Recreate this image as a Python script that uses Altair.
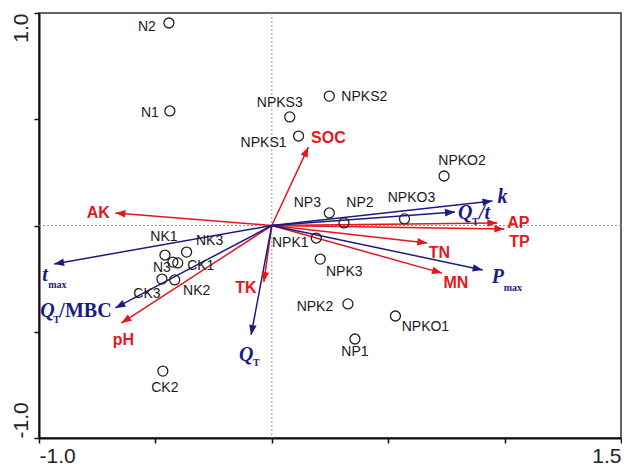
import math
import altair as alt
import pandas as pd

# ---------------- data ----------------
sample_names = ["N2", "N1", "NPKS3", "NPKS1", "NPKS2", "NPKO2", "NPKO3", "NP2", "NP3",
                "NPK1", "NPK3", "NPK2", "NPKO1", "NP1", "NK1", "NK3", "N3", "CK1",
                "CK3", "NK2", "CK2"]
sample_x = [-0.442, -0.438, 0.077, 0.115, 0.247, 0.740, 0.570, 0.310, 0.247,
            0.191, 0.208, 0.327, 0.531, 0.357, -0.459, -0.366, -0.425, -0.404,
            -0.472, -0.417, -0.468]
sample_y = [0.953, 0.539, 0.511, 0.421, 0.609, 0.233, 0.031, 0.012, 0.059,
            -0.059, -0.158, -0.369, -0.426, -0.534, -0.139, -0.125, -0.172, -0.176,
            -0.252, -0.256, -0.685]

env_names = ["AK", "SOC", "AP", "TP", "TN", "MN", "TK", "pH"]
env_x = [-0.672, 0.157, 0.969, 0.999, 0.668, 0.731, -0.034, -0.646]
env_y = [0.059, 0.369, 0.012, -0.016, -0.082, -0.224, -0.266, -0.459]

proc_names = ["k", "QT/t", "Pmax", "tmax", "QT/MBC", "QT"]
proc_x = [0.948, 0.787, 0.906, -0.935, -0.672, -0.089]
proc_y = [0.115, 0.064, -0.209, -0.181, -0.388, -0.515]

x_tick_values = [-1.0, -0.5, 0.0, 0.5, 1.0, 1.5]
x_tick_labels = ["-1.0", "", "", "", "", "1.5"]
y_tick_values = [-1.0, -0.5, 0.0, 0.5, 1.0]
y_tick_labels = ["-1.0", "", "", "", "1.0"]

# ---------------- label placement (pixel offsets) ----------------
sample_lab_dx = [-22, -20, -10, -35, 35, 18, 7, 16, -22, -26, 24, -33, 30, 0, -1, 23, -11, 23, -15, 22, 2]
sample_lab_dy = [4, 2, -14, 7, 1, -15, -21, -20, -10, 5, 13, 3, 11, 13, -18, -11, 6, 3, 15, 11, 17]
env_lab_dx = [-17, 20, 21, 15, 12, 14, -18, 2]
env_lab_dy = [0, -9, 0, 13, 10, 10, 6, 17]
# process-variable labels built from pieces: (variable, text, style, dx, dy)
proc_pieces = [
    ("k", "k", "it", 5, -4),
    ("QT/t", "Q", "it", 3, 1), ("QT/t", "T", "sub", 17, 10), ("QT/t", "/t", "it", 24, 1),
    ("Pmax", "P", "it", 9, 7), ("Pmax", "max", "sub", 21, 18),
    ("tmax", "t", "it", -12, 11), ("tmax", "max", "sub", -6, 21),
    ("QT/MBC", "Q", "it", -75, 3), ("QT/MBC", "T", "sub", -62, 12), ("QT/MBC", "/MBC", "up", -56, 3),
    ("QT", "Q", "it", -12, 20), ("QT", "T", "sub", 2, 28),
]

# ---------------- layout ----------------
W, H = 582, 425
XMIN, XMAX, YMIN, YMAX = -1.0, 1.5, -1.0, 1.0
PX = W / (XMAX - XMIN)
PY = H / (YMAX - YMIN)
RED = "#e5161d"
BLUE = "#1b1b82"

samples = pd.DataFrame({"name": sample_names, "x": sample_x, "y": sample_y})
samples["lx"] = [x + d / PX for x, d in zip(sample_x, sample_lab_dx)]
samples["ly"] = [y - d / PY for y, d in zip(sample_y, sample_lab_dy)]

def arrow_frame(names, xs, ys, grp):
    df = pd.DataFrame({"name": names, "x": xs, "y": ys})
    df["x0"] = 0.0
    df["y0"] = 0.0
    df["grp"] = grp
    df["ang"] = [(-math.degrees(math.atan2(y * PY, x * PX))) % 360 for x, y in zip(xs, ys)]
    return df

env = arrow_frame(env_names, env_x, env_y, "env")
env["lx"] = [x + d / PX for x, d in zip(env_x, env_lab_dx)]
env["ly"] = [y - d / PY for y, d in zip(env_y, env_lab_dy)]
proc = arrow_frame(proc_names, proc_x, proc_y, "proc")
arrows = pd.concat([env, proc], ignore_index=True)

tip = dict(zip(proc_names, zip(proc_x, proc_y)))
pieces = pd.DataFrame([
    {"var": v, "text": t, "style": s,
     "lx": tip[v][0] + dx / PX, "ly": tip[v][1] - dy / PY}
    for v, t, s, dx, dy in proc_pieces
])

def lab_expr(vals, labs):
    return " : ".join(f"datum.value == {v} ? '{l}'" for v, l in zip(vals, labs)) + " : ''"

xscale = alt.Scale(domain=[XMIN, XMAX], nice=False, zero=False)
yscale = alt.Scale(domain=[YMIN, YMAX], nice=False, zero=False)
xaxis = alt.Axis(values=x_tick_values, labelExpr=lab_expr(x_tick_values, x_tick_labels),
                 title="", grid=False, labelBaseline="top", labelPadding=2,
                 labelAlign={"condition": {"test": "datum.value < 0", "value": "left"}, "value": "right"})
yaxis = alt.Axis(values=y_tick_values, labelExpr=lab_expr(y_tick_values, y_tick_labels),
                 title="", grid=False, labelAngle=270, labelBaseline="bottom", labelPadding=3,
                 labelAlign={"condition": {"test": "datum.value > 0", "value": "right"}, "value": "left"})

def X(f):
    return alt.X(f, type="quantitative", scale=xscale, axis=xaxis)

def Y(f):
    return alt.Y(f, type="quantitative", scale=yscale, axis=yaxis)

zero = pd.DataFrame({"z": [0.0]})
vline = alt.Chart(zero).mark_rule(color="#9a9a9a", strokeDash=[2, 2], strokeWidth=1).encode(x=X("z"))
hline = alt.Chart(zero).mark_rule(color="#9a9a9a", strokeDash=[2, 2], strokeWidth=1).encode(y=Y("z"))

color = alt.Color("grp:N", scale=alt.Scale(domain=["env", "proc"], range=[RED, BLUE]), legend=None)

shafts = alt.Chart(arrows).mark_rule(strokeWidth=1.5).encode(
    x=X("x0"), y=Y("y0"), x2="x", y2="y", color=color)
heads = alt.Chart(arrows).mark_point(
    shape="M0,0L-1,-0.38L-1,0.38Z", filled=True, size=400, opacity=1, strokeWidth=0
).encode(x=X("x"), y=Y("y"), angle=alt.Angle("ang:Q", scale=None), color=color)

points = alt.Chart(samples).mark_point(
    shape="circle", filled=False, size=100, color="#222222", strokeWidth=1.3, opacity=1
).encode(x=X("x"), y=Y("y"))
point_labels = alt.Chart(samples).mark_text(
    font="Liberation Sans", fontSize=14, color="#1a1a1a", align="center", baseline="middle"
).encode(x=X("lx"), y=Y("ly"), text="name:N")

env_labels = alt.Chart(env).mark_text(
    font="Liberation Sans", fontSize=16, fontWeight="bold", color=RED, align="center", baseline="middle"
).encode(x=X("lx"), y=Y("ly"), text="name:N")

def piece_layer(style, **kw):
    return alt.Chart(pieces).transform_filter(alt.datum.style == style).mark_text(
        font="Liberation Serif", fontWeight="bold", color=BLUE, align="left", baseline="middle", **kw
    ).encode(x=X("lx"), y=Y("ly"), text="text:N")

proc_it = piece_layer("it", fontSize=20, fontStyle="italic")
proc_up = piece_layer("up", fontSize=20)
proc_sub = piece_layer("sub", fontSize=10)

chart = alt.layer(
    vline, hline, shafts, heads, points, point_labels, env_labels, proc_it, proc_up, proc_sub
).properties(
    width=W, height=H,
    autosize=alt.AutoSizeParams(type="none"),
    padding={"left": 31, "top": 5, "right": 1, "bottom": 30},
).configure_view(
    stroke="#333333", strokeWidth=1.5
).configure_axis(
    labelFont="Liberation Sans", labelFontSize=21, labelColor="#222222",
    tickColor="#111111", tickWidth=1.5, tickSize=5,
    domainColor="#111111", domainWidth=2
)

chart.save("out.html", embed_options={"renderer": "svg", "actions": False})
